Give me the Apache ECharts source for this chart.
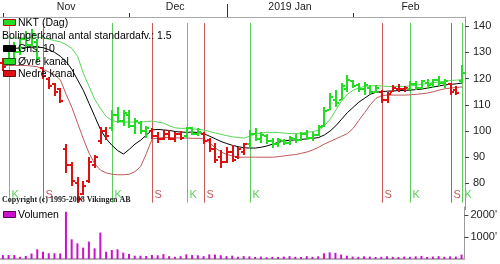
<!DOCTYPE html>
<html><head><meta charset="utf-8">
<script src="https://cdn.jsdelivr.net/npm/echarts@6/dist/echarts.min.js"></script>
<style>html,body{margin:0;padding:0;background:#fff}#c{width:500px;height:264px}</style>
</head><body><div id="c"></div>
<script>
// ---- data ----
const dates = [
 '2018-11-01','2018-11-02','2018-11-05','2018-11-06','2018-11-07','2018-11-08','2018-11-09','2018-11-12','2018-11-13','2018-11-14','2018-11-15','2018-11-16','2018-11-19','2018-11-20','2018-11-21','2018-11-22','2018-11-23','2018-11-26','2018-11-27','2018-11-28','2018-11-29','2018-11-30',
 '2018-12-03','2018-12-04','2018-12-05','2018-12-06','2018-12-07','2018-12-10','2018-12-11','2018-12-12','2018-12-13','2018-12-14','2018-12-17','2018-12-18','2018-12-19','2018-12-20','2018-12-21','2018-12-27','2018-12-28',
 '2019-01-02','2019-01-03','2019-01-04','2019-01-07','2019-01-08','2019-01-09','2019-01-10','2019-01-11','2019-01-14','2019-01-15','2019-01-16','2019-01-17','2019-01-18','2019-01-21','2019-01-22','2019-01-23','2019-01-24','2019-01-25','2019-01-28','2019-01-29','2019-01-30','2019-01-31',
 '2019-02-01','2019-02-04','2019-02-05','2019-02-06','2019-02-07','2019-02-08','2019-02-11','2019-02-12','2019-02-13','2019-02-14','2019-02-15','2019-02-18','2019-02-19','2019-02-20','2019-02-21','2019-02-22','2019-02-25','2019-02-26','2019-02-27','2019-02-28'
];
const opens = [126,126,131,130,135,133,134,124,120,118,116,93,87,80,76,81,87,96,100,
 101,106,104,106,102,103,100, 100,98,97,99,97,99, 98,101,99, 99,96.5,93,90,88,92,90,92,
 95,99,97,98,96,95,96,95.5,97,96.5,99,97.5,98.5,102,108,112,112,116,119,117.5,116,116.5,115,
 115,112,115,116,116, 116,118,116.5,118.5,118,119.5,118.5, 118,115.5,119];
const highs = [128,132,134,136,138,139,135,124.5,120.5,118.5,116.5,95,88,82.5,81,90,91,101.5,101.5,
 108,109,108,108,105,104,102, 101,99.6,100.4,100.4,99.6,100, 101.5,101.5,101, 99.5,97.3,95.4,92.7,94,94.7,94,95.5,
 100.5,101,99.5,99,97.5,97.5,97,98,99,99.5,100.5,99.5,102.3,109,114.5,115.5,118.5,121.4,119.5,118.3,118.7,117.5,117.5,
 115.5,115,117.5,117.8,117, 119,119,119.5,120,120,121,120, 118.3,117,125];
const lows = [123,125,128,129,132,132,126,120,116,113.5,110.5,84,79,72.5,75.5,80,86,95,96.5,
 100,103,102,101,99,99,97.5, 97,95.4,96.6,96.5,95.8,96.5, 97.5,98.5,98, 95,92,87.8,86,87.8,88,89.5,91,
 93.5,96,95.5,95,93.5,94,94.5,94.5,95.5,96,96.5,96,98,101.5,108,109,111.8,115,116.4,115,113.7,114,114.5,
 110.7,110.5,115,115,115, 115.6,115.6,116,116,116.4,117,116.4, 113.7,113.7,118.3];
const closes = [124.5,131,130,135,133,137,128,121,117,115,111.5,87,81,74,79,88,90,100,98,
 106,104,107,102,104,100,101, 98,97,99,97,99,97.5, 101,99,99.5, 96,93,89,88,92,89,93,95,
 99,97,98.5,96,95,96.5,95.5,97.5,96.5,99,97.5,98.5,101.5,107.5,113,110.5,117,119.5,117,116,117.5,115,116.5,
 112,114,116.5,116,116.5, 118,116.5,119,117.5,119.5,118.5,119, 115,114.5,122];
const upperBand = [135.5,135.5,135.5,135.5,135.5,135.8,135.8,135.5,135,134.5,134,
 133,131.5,128.5,122,117,112,108.5,105.5,104,103.5,103.4,103.4,103.4,103.4,103.6,103.8,103.4,103,102,101.2,101,100.8,100.8,100.6,100.4,99.8,99.2,98.7,98.2,97.8,97.5,97.3,
 98,98.8,99.2,99.5,99.5,99.4,99.2,99,99,99.2,99.5,99.8,100.2,102,104.5,108,111.5,114,115.5,116.5,117,117.2,117.3,
 117.2,117,117,117,117,117.2,117.5,117.8,118.2,118.5,118.7,119,119.3,119.4,119.6];
const midBand = [131,131.3,131.5,131.7,131.8,132,132,131.8,131,130,128.5,126.5,123.5,119.5,115.5,110.5,105.5,100.5,97,94.5,92.5,91.2,93,95,96.5,98.5,
 100.4,100.6,100.4,100.2,99.8,99.6,99.5,99.6,99.4,99,98,97,96,95.2,94.5,94,93.6,
 93.5,93.5,93.8,94.3,95,95.7,96.2,96.5,96.6,96.8,97,97.2,97.5,98.5,100,102,104.5,107,109,111,112.5,114,114.8,
 115,115.2,115.3,115.4,115.5,115.6,115.8,116,116.4,116.8,117.2,117.6,117.8,118,118.3];
const lowerBand = [125,125,125,125,125,124.8,124.5,123.5,122.5,121.5,119.5,114,109,103,97,91.5,87.5,85,84,83.5,83.3,83.3,83.5,84.5,86.5,91.5,
 97,97.3,97.5,97.5,97.4,97.3,97.3,97.2,97.2,97,95.5,93.5,92,91,90.5,90,90,
 90,90,90,90,90,90.2,90.5,90.8,91,91.5,92,92.8,93.8,95,96,97,98,99,101,104,107,110,112.5,
 113.5,113.7,113.7,113.7,113.7,113.8,114,114.2,114.5,115,115.6,116.1,116.4,116.6,116.8];
const volume = [180,180,180,100,140,250,440,330,260,260,250,2150,895,710,515,790,485,1200,333,410,440,290,230,150,150,135,
 180,170,220,130,100,130,210,180,170,130,210,200,170,130,150,100,130,
 120,90,110,80,100,90,110,130,100,90,130,100,120,260,300,280,200,150,110,100,120,110,90,100,120,100,90,110,100,120,140,90,110,130,100,120,110,200];
const buySignals = [1,19,32,43,71,80];   // K
const sellSignals = [7,26,35,66,78];     // S
const monthNames = ['Nov','Dec','2019 Jan','Feb'];
const priceTicks = [80,90,100,110,120,130,140];
const volumeTicks = [1000,2000];

// ---- styling ----
const GREEN = '#22dd22', RED = '#dd1111';
const SIG_GREEN = '#5fcc5f', SIG_RED = '#c85a5a';
const FONT = '"Liberation Sans", Arial, sans-serif';

function stateAt(i) {
  let last = -1, s = 'S';
  buySignals.forEach(b => { if (b <= i && b > last) { last = b; s = 'K'; } });
  sellSignals.forEach(b => { if (b <= i && b > last) { last = b; s = 'S'; } });
  return s;
}

// month starts / label positions from the dates
const monthStarts = [], monthLabel = {};
dates.forEach((d, i) => { if (i === 0 || d.slice(0,7) !== dates[i-1].slice(0,7)) monthStarts.push(i); });
monthStarts.forEach((s, k) => {
  const e = (k + 1 < monthStarts.length ? monthStarts[k+1] : dates.length) - 1;
  monthLabel[Math.ceil((s + e) / 2)] = monthNames[k];
});
const yearStart = dates.findIndex(d => d.startsWith('2019'));

const ohlcData = dates.map((d, i) => [i, opens[i], highs[i], lows[i], closes[i]]);

function ohlcRender(params, api) {
  const i = api.value(0);
  const pH = api.coord([i, api.value(2)]);
  const pL = api.coord([i, api.value(3)]);
  const pO = api.coord([i, api.value(1)]);
  const pC = api.coord([i, api.value(4)]);
  const x = Math.round(pH[0]);
  const col = stateAt(i) === 'K' ? GREEN : RED;
  const yt = Math.round(pH[1]), yb = Math.round(pL[1]);
  const yo = Math.round(pO[1]), yc = Math.round(pC[1]);
  return { type: 'group', children: [
    { type: 'rect', shape: { x: x - 1, y: yt, width: 2, height: Math.max(1, yb - yt) }, style: { fill: col } },
    { type: 'rect', shape: { x: x - 3, y: yo - 1, width: 2, height: 2 }, style: { fill: col } },
    { type: 'rect', shape: { x: x + 1, y: yc - 1, width: 2, height: 2 }, style: { fill: col } }
  ]};
}
function signalRender(kind, color) {
  return function (params, api) {
    const i = api.value(0);
    const x = Math.round(api.coord([i, 100])[0]) + 0.5;
    const cs = params.coordSys;
    const y1 = cs.y + 6, y2 = cs.y + cs.height - 7;
    return { type: 'group', children: [
      { type: 'line', shape: { x1: x, y1: y1, x2: x, y2: y2 }, style: { stroke: color, lineWidth: 1 } },
      { type: 'text', x: x + 2, y: y2 - 2, style: { text: kind, fill: color, font: '11px ' + FONT, verticalAlign: 'bottom', align: 'left' } }
    ]};
  };
}

const chart = echarts.init(document.getElementById('c'), null, { renderer: 'canvas' });
const catAxisBase = { type: 'category', data: dates, boundaryGap: true };
chart.setOption({
  animation: false,
  backgroundColor: '#fff',
  textStyle: { fontFamily: FONT },
  grid: [
    { left: 0, right: 35, top: 17, bottom: 54.4 },
    { left: 0, right: 35, top: 207, bottom: 5 }
  ],
  xAxis: [
    Object.assign({}, catAxisBase, { gridIndex: 0, position: 'bottom', show: false }),
    Object.assign({}, catAxisBase, { gridIndex: 0, position: 'top',
      axisLine: { show: true, lineStyle: { color: '#a8a8a8', width: 1 } },
      axisTick: { show: true, alignWithLabel: true, length: 4, interval: (i) => monthStarts.includes(i), lineStyle: { color: '#333' } },
      axisLabel: { show: true, interval: 0, margin: 4, fontSize: 10.5, color: '#222', fontFamily: FONT, formatter: (v, i) => monthLabel[i] || '' },
      splitLine: { show: false } }),
    Object.assign({}, catAxisBase, { gridIndex: 0, position: 'top',
      axisLine: { show: false },
      axisTick: { show: true, alignWithLabel: true, length: 13, interval: (i) => i === yearStart, lineStyle: { color: '#333' } },
      axisLabel: { show: false }, splitLine: { show: false } }),
    Object.assign({}, catAxisBase, { gridIndex: 1, position: 'top',
      axisLine: { show: true, lineStyle: { color: '#b4b4b4', width: 2 } },
      axisTick: { show: false }, axisLabel: { show: false }, splitLine: { show: false } })
  ],
  yAxis: [
    { type: 'value', gridIndex: 0, position: 'right', min: 70, max: 143.5, interval: 10,
      axisLine: { show: true, lineStyle: { color: '#999' } },
      axisTick: { show: true, length: 4, customValues: priceTicks, lineStyle: { color: '#444' } },
      axisLabel: { customValues: priceTicks, margin: 8, fontSize: 11, color: '#222', fontFamily: FONT,
        formatter: v => priceTicks.includes(v) ? String(v) : '' },
      splitLine: { show: false } },
    { type: 'value', gridIndex: 1, position: 'right', min: 0, max: 2364, interval: 1000,
      axisLine: { show: true, lineStyle: { color: '#999' } },
      axisTick: { show: true, length: 4, customValues: volumeTicks, lineStyle: { color: '#444' } },
      axisLabel: { customValues: volumeTicks, margin: 6, fontSize: 11, color: '#222', fontFamily: FONT,
        formatter: v => volumeTicks.includes(v) ? v + "'" : '' },
      splitLine: { show: false } }
  ],
  series: [
    { type: 'custom', name: 'K', xAxisIndex: 0, yAxisIndex: 0, data: buySignals.map(i => [i]), encode: { x: 0 },
      renderItem: signalRender('K', SIG_GREEN), z: 1, silent: true },
    { type: 'custom', name: 'S', xAxisIndex: 0, yAxisIndex: 0, data: sellSignals.map(i => [i]), encode: { x: 0 },
      renderItem: signalRender('S', SIG_RED), z: 1, silent: true },
    { type: 'line', name: 'Øvre kanal', xAxisIndex: 0, yAxisIndex: 0, data: upperBand, symbol: 'none',
      lineStyle: { color: '#5ad45a', width: 1 }, z: 2, silent: true },
    { type: 'line', name: 'Gns: 10', xAxisIndex: 0, yAxisIndex: 0, data: midBand, symbol: 'none',
      lineStyle: { color: '#000', width: 1 }, z: 2, silent: true },
    { type: 'line', name: 'Nedre kanal', xAxisIndex: 0, yAxisIndex: 0, data: lowerBand, symbol: 'none',
      lineStyle: { color: '#c05858', width: 1 }, z: 2, silent: true },
    { type: 'custom', name: 'NKT (Dag)', xAxisIndex: 0, yAxisIndex: 0, data: ohlcData,
      encode: { x: 0, y: [1, 2, 3, 4] }, renderItem: ohlcRender, z: 3, silent: true },
    { type: 'bar', name: 'Volumen', xAxisIndex: 3, yAxisIndex: 1, data: volume, barWidth: 2,
      itemStyle: { color: '#cc11cc' }, silent: true }
  ],
  graphic: { elements: [
    { type: 'rect', z: 100, shape: { x: 3.5, y: 19.5, width: 12, height: 6 }, style: { fill: GREEN, stroke: '#cc0000', lineWidth: 1 } },
    { type: 'text', z: 100, x: 18, y: 23, style: { text: 'NKT (Dag)', font: '10.5px ' + FONT, fill: '#000', verticalAlign: 'middle' } },
    { type: 'text', z: 100, x: 2, y: 36, style: { text: 'Bolingerkanal antal standardafv.: 1.5', font: '10.5px ' + FONT, fill: '#000', verticalAlign: 'middle' } },
    { type: 'rect', z: 100, shape: { x: 3.5, y: 45.5, width: 12, height: 6 }, style: { fill: '#000', stroke: '#000', lineWidth: 1 } },
    { type: 'text', z: 100, x: 18, y: 49, style: { text: 'Gns: 10', font: '10.5px ' + FONT, fill: '#000', verticalAlign: 'middle' } },
    { type: 'rect', z: 100, shape: { x: 3.5, y: 58.5, width: 12, height: 6 }, style: { fill: GREEN, stroke: '#115511', lineWidth: 1 } },
    { type: 'text', z: 100, x: 18, y: 62, style: { text: 'Øvre kanal', font: '10.5px ' + FONT, fill: '#000', verticalAlign: 'middle' } },
    { type: 'rect', z: 100, shape: { x: 3.5, y: 70.5, width: 12, height: 6 }, style: { fill: RED, stroke: '#661111', lineWidth: 1 } },
    { type: 'text', z: 100, x: 18, y: 74, style: { text: 'Nedre kanal', font: '10.5px ' + FONT, fill: '#000', verticalAlign: 'middle' } },
    { type: 'text', z: 100, x: 2, y: 200, style: { text: 'Copyright (c) 1995-2008 Vikingen AB', font: 'bold 8px "Liberation Serif", serif', fill: '#222', verticalAlign: 'middle' } },
    { type: 'rect', z: 100, shape: { x: 3.5, y: 211.5, width: 12, height: 6 }, style: { fill: '#cc11cc', stroke: '#550055', lineWidth: 1 } },
    { type: 'text', z: 100, x: 18, y: 215, style: { text: 'Volumen', font: '10.5px ' + FONT, fill: '#000', verticalAlign: 'middle' } }
  ]}
});
</script>
</body></html>
